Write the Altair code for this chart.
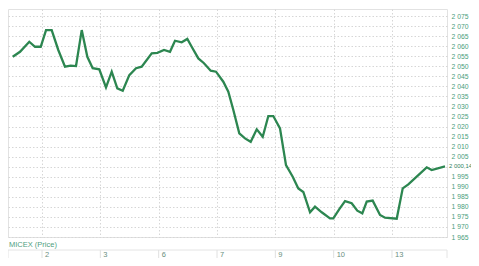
import altair as alt
import pandas as pd

# trading-session position (1 = start of day "2", 2 = day "3", ...) and MICEX price
t_vals = [0.498, 0.623, 0.782, 0.880, 0.978, 1.069, 1.166, 1.279, 1.394, 1.492,
          1.583, 1.681, 1.777, 1.869, 1.982, 2.097, 2.195, 2.291, 2.384, 2.497,
          2.612, 2.709, 2.881, 2.977, 3.092, 3.194, 3.280, 3.395, 3.491, 3.566,
          3.680, 3.777, 3.892, 3.983, 4.108, 4.194, 4.280, 4.382, 4.480, 4.578,
          4.681, 4.784, 4.880, 4.965, 5.080, 5.183, 5.298, 5.394, 5.480, 5.595,
          5.680, 5.795, 5.937, 5.994, 6.097, 6.195, 6.309, 6.405, 6.491, 6.567,
          6.669, 6.795, 6.880, 7.081, 7.184, 7.280, 7.595, 7.681, 7.909]
prices = [2054.7, 2057.2, 2062.2, 2059.7, 2059.7, 2068.0, 2068.0, 2058.1, 2049.8, 2050.3,
          2050.1, 2068.0, 2054.7, 2049.0, 2048.5, 2039.5, 2047.3, 2039.0, 2037.8, 2045.6,
          2049.0, 2049.8, 2056.4, 2056.7, 2058.1, 2057.2, 2062.7, 2061.9, 2063.6, 2059.7,
          2053.9, 2051.5, 2047.8, 2047.3, 2042.3, 2037.3, 2028.2, 2016.6, 2014.1, 2012.4,
          2018.6, 2014.9, 2025.2, 2025.2, 2019.1, 2000.8, 1995.0, 1989.2, 1987.4, 1977.3,
          1980.1, 1977.3, 1974.3, 1974.3, 1978.9, 1982.9, 1981.8, 1978.1, 1976.8, 1982.6,
          1983.1, 1976.0, 1974.6, 1974.1, 1989.2, 1991.2, 1999.7, 1998.3, 2000.14]

day_pos = [1, 2, 3, 4, 5, 6, 7]
day_labels = ["2", "3", "6", "7", "9", "10", "13"]
y_ticks = list(range(1965, 2080, 5))
last_label = "2 000,14"
series_name = "MICEX (Price)"

W, H = 439, 228
x_dom = [0.417, 7.943]
y_dom = [1965, 2078.5]

df = pd.DataFrame({"t": t_vals, "p": prices})
days = pd.DataFrame({"t": day_pos, "lab": day_labels})
last = pd.DataFrame({"t": [t_vals[-1]], "p": [prices[-1]], "lab": [last_label]})

grid_color = "#d6d6d6"
font = "Liberation Sans"

x_scale = alt.Scale(domain=x_dom, nice=False, zero=False)
y_scale = alt.Scale(domain=y_dom, nice=False, zero=False)

x_axis = alt.Axis(values=day_pos, grid=True, gridColor=grid_color,
                  gridDash=[1.5, 2], gridWidth=1, labels=False, ticks=False,
                  domain=False, title=None)
y_axis = alt.Axis(orient="right", values=y_ticks, grid=True, gridColor=grid_color,
                  gridDash=[1.5, 2], gridWidth=1, ticks=False, domain=False,
                  labelPadding=4, labelFontSize=6.8, labelFont=font,
                  labelOverlap=False, labelBound=False, labelFlush=False,
                  labelColor="#4a9e7c", title=None,
                  labelExpr="datum.value == 2000 ? '' : replace(format(datum.value, ','), ',', ' ')")

x_enc = alt.X("t:Q", scale=x_scale, axis=x_axis)
y_enc = alt.Y("p:Q", scale=y_scale, axis=y_axis)

line = alt.Chart(df).mark_line(color="#2c8650", strokeWidth=2.3).encode(x=x_enc, y=y_enc)

last_txt = alt.Chart(last).mark_text(align="left", baseline="middle", fontSize=5.9,
                                     font=font, color="#2f7f5e").encode(
    x=alt.value(W + 2), y=y_enc, text="lab:N")

row_box = alt.Chart(pd.DataFrame({"a": [0]})).mark_rect(
    fill="#ffffff", stroke="#e4e4e4", strokeWidth=1).encode(
    x=alt.value(0), x2=alt.value(W), y=alt.value(241), y2=alt.value(252))

seps = alt.Chart(days).mark_rule(color="#e0e0e0", strokeWidth=1).encode(
    x=x_enc, y=alt.value(241), y2=alt.value(252))

day_txt = alt.Chart(days).mark_text(align="left", baseline="middle", dx=3, fontSize=7.5,
                                    font=font, color="#6a8f80").encode(
    x=x_enc, y=alt.value(246), text="lab:N")

name_txt = alt.Chart(pd.DataFrame({"lab": [series_name]})).mark_text(
    align="left", baseline="middle", fontSize=7.5, font=font, color="#4f9e80").encode(
    x=alt.value(1), y=alt.value(235.5), text="lab:N")

chart = alt.layer(line, last_txt, row_box, seps, day_txt, name_txt).properties(
    width=W, height=H,
    autosize=alt.AutoSizeParams(type="none"),
    padding={"left": 0, "top": 1, "right": 24, "bottom": 21},
    background="#ffffff",
).configure_view(stroke="#e2e2e2", strokeWidth=1)

chart.save("out.html", embed_options={"renderer": "svg", "actions": False})
